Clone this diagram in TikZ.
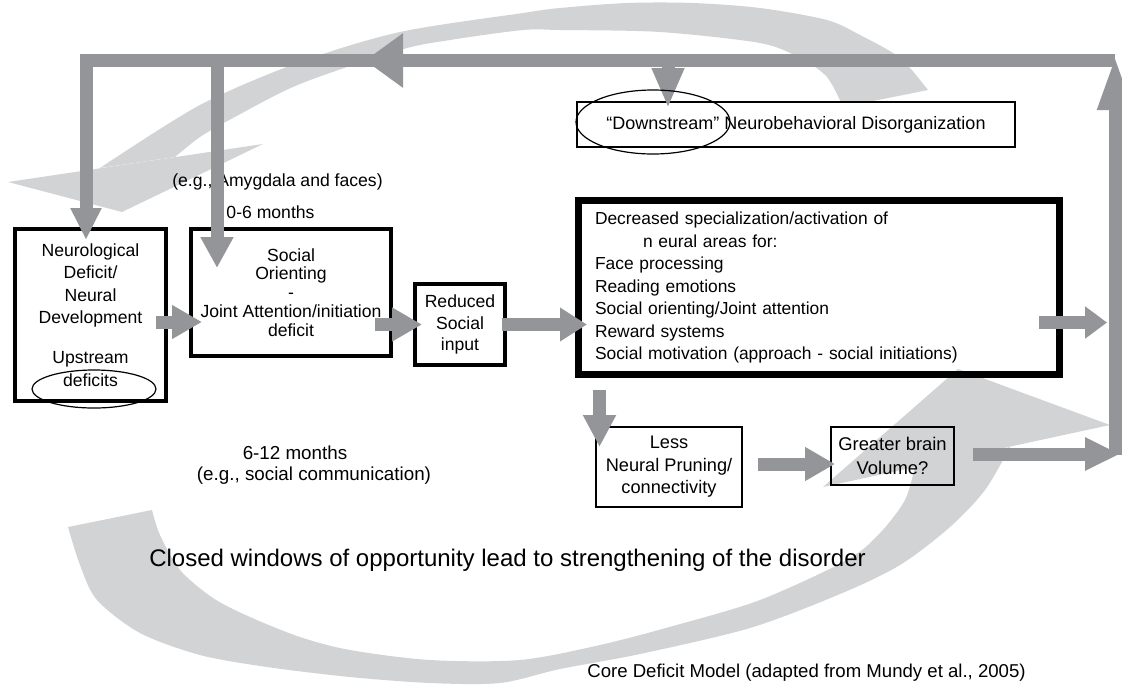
\documentclass[tikz,border=0pt]{standalone}
\usepackage{fontspec}
\setmainfont{Liberation Sans}
\usetikzlibrary{arrows.meta,shapes.geometric}
\definecolor{bargray}{HTML}{939598}
\definecolor{swirlgray}{HTML}{D1D3D4}

\begin{document}
\begin{tikzpicture}[x=0.5pt, y=-0.5pt,
  box/.style={draw, outer sep=0pt, inner sep=0pt, align=center},
  ring/.style={draw, ellipse, line width=0.6pt, inner sep=0pt},
  bar/.style={draw=bargray, line width=6.5pt},
  gtip/.style={-{Triangle[length=15pt,width=16pt]}},
  lbl/.style={inner sep=0pt, font=\fontsize{8.8}{11.5}\selectfont}]

\clip (0,0) rectangle (1122,686);

\fill[swirlgray] plot[smooth] coordinates {(100,168) (200,105) (300,62) (400,32) (523,13) (560,8) (627,3) (693,3) (760,8) (827,20) (860,35) (893,53) (910,68) (928,90)}
  -- plot[smooth] coordinates {(843,107) (827,77) (800,58) (760,43) (660,32) (560,30) (523,30) (450,40) (400,50) (300,84) (233,118) (200,137) (175,157)} -- cycle;
\fill[swirlgray] (8,182) -- (122,212) -- (263,144) -- cycle;

\fill[swirlgray] plot[smooth] coordinates {(68,527) (80,565) (97,600) (140,633) (200,655) (267,667) (350,677) (430,683) (500,683) (560,669) (640,654) (750,628) (840,594) (900,565) (950,527) (985,490) (1010,447)}
  -- plot[smooth] coordinates {(915,466) (905,500) (880,533) (847,560) (760,600) (673,626) (600,645) (520,660) (430,660) (350,650) (300,637) (250,617) (213,598) (180,570) (160,535) (152,510)} -- cycle;
\fill[swirlgray] (823,487) -- (1110,425) -- (958,369) -- cycle;

\node[box, line width=2pt, minimum width=75.5pt, minimum height=86pt, font=\fontsize{8.8}{11.15}\selectfont] (neuro) at (90.5,315) {Neurological\\Deficit/\\Neural\\Development\\[9pt]Upstream\\deficits};
\node[box, line width=2pt, minimum width=100pt, minimum height=63.5pt, font=\fontsize{8.8}{9.4}\selectfont] (social) at (291,292.5) {Social\\Orienting\\-\\Joint Attention/initiation\\deficit};
\node[box, line width=2pt, minimum width=45pt, minimum height=40.5pt, font=\fontsize{8.8}{10.75}\selectfont] (reduced) at (460,324.5) {Reduced\\Social\\input};
\node[box, line width=3.5pt, align=left, text width=224pt, inner xsep=8.25pt, minimum height=87pt, font=\fontsize{8.7}{11.25}\selectfont] (decreased) at (819,287.5) {Decreased specialization/activation of\\\hspace*{24pt}n eural areas for:\\Face processing\\Reading emotions\\Social orienting/Joint attention\\Reward systems\\Social motivation (approach - social initiations)};
\node[box, line width=0.75pt, fill=white, minimum width=219pt, minimum height=22.5pt, font=\fontsize{9}{11}\selectfont] (downstream) at (796,124.5) {“Downstream” Neurobehavioral Disorganization};
\node[box, line width=0.75pt, minimum width=73pt, minimum height=40pt, font=\fontsize{9.1}{11.25}\selectfont] (less) at (669,467) {Less\\Neural Pruning/\\connectivity};
\node[box, line width=0.75pt, minimum width=61.5pt, minimum height=29pt, font=\fontsize{9.2}{12}\selectfont] (greater) at (892.5,456) {Greater brain\\Volume?};

\node[lbl] (amyg) at (277.5,182) {(e.g., Amygdala and faces)};
\node[lbl] (zerosix) at (270.5,212) {0-6 months};
\node[lbl, font=\fontsize{9.4}{11.5}\selectfont] (sixtwelve) at (295,453) {6-12 months};
\node[lbl, font=\fontsize{9.4}{11.5}\selectfont] (commun) at (314,476) {(e.g., social communication)};
\node[lbl, font=\fontsize{12}{14}\selectfont] (closed) at (507.5,560) {Closed windows of opportunity lead to strengthening of the disorder};
\node[lbl, font=\fontsize{9.3}{11}\selectfont] (core) at (806.5,673) {Core Deficit Model (adapted from Mundy et al., 2005)};

\coordinate (se) at (1115,455);
\coordinate (ne) at (1115,60.5);
\coordinate (nw) at (86,60.5);
\coordinate (barsoc) at (217,60.5);
\coordinate (bards) at (668,60.5);
\coordinate (midtail) at (430,60.5);
\coordinate (midtip) at (365,60.5);

\draw[bar, -{Triangle[length=27.5pt,width=16pt]}, shorten >=-2.75pt] (se) -- (ne);
\draw[bar, -{Triangle[length=16pt,width=14.5pt]}, shorten >=-5.5pt] (ne) -- (nw) -- (nw |- neuro.north);
\draw[bar, -{Triangle[length=19pt,width=26pt]}] (midtail) -- (midtip);
\draw[bar, -{Triangle[length=15.5pt,width=15.5pt]}, shorten >=-19.5pt] (barsoc) -- (barsoc |- social.north);
\draw[bar, -{Triangle[length=20pt,width=15pt]}, shorten >=-3pt] (bards) -- (bards |- downstream.north);

\draw[bar, gtip, shorten <=-5pt, shorten >=-5.5pt] ([yshift=-3.5pt]neuro.east) -- ([yshift=-3.5pt]neuro.east -| social.west);
\draw[bar, gtip, shorten <=-8pt, shorten >=-3.5pt] (social.east |- reduced.west) -- (reduced.west);
\draw[bar, -{Triangle[length=13.5pt,width=16pt]}, shorten <=-1.5pt, shorten >=-4.25pt] (reduced.east) -- (reduced.east -| decreased.west);
\draw[bar, -{Triangle[length=11pt,width=15.5pt]}, shorten <=-10.25pt, shorten >=4pt] ([yshift=-17.5pt]decreased.east) -- ([yshift=-17.5pt]decreased.east -| se);
\draw[bar, -{Triangle[length=16pt,width=15.5pt]}, shorten <=7.75pt, shorten >=-10pt] ([xshift=1.75pt]less.north west |- decreased.south) -- ([xshift=1.75pt]less.north west);
\draw[bar, gtip, shorten <=8pt, shorten >=-2pt] ([yshift=1.5pt]less.east) -- ([yshift=1.5pt]less.east -| greater.west);
\draw[bar, -{Triangle[length=17.5pt,width=15.5pt]}, shorten <=9.5pt, shorten >=-2.5pt] ([yshift=1pt]greater.east) -- ([yshift=1pt]greater.east -| se);

\node[ring, minimum width=77pt, minimum height=32pt] (dsring) at (653,122) {};
\node[ring, minimum width=62pt, minimum height=19pt] (upring) at (94,389) {};

\end{tikzpicture}
\end{document}
